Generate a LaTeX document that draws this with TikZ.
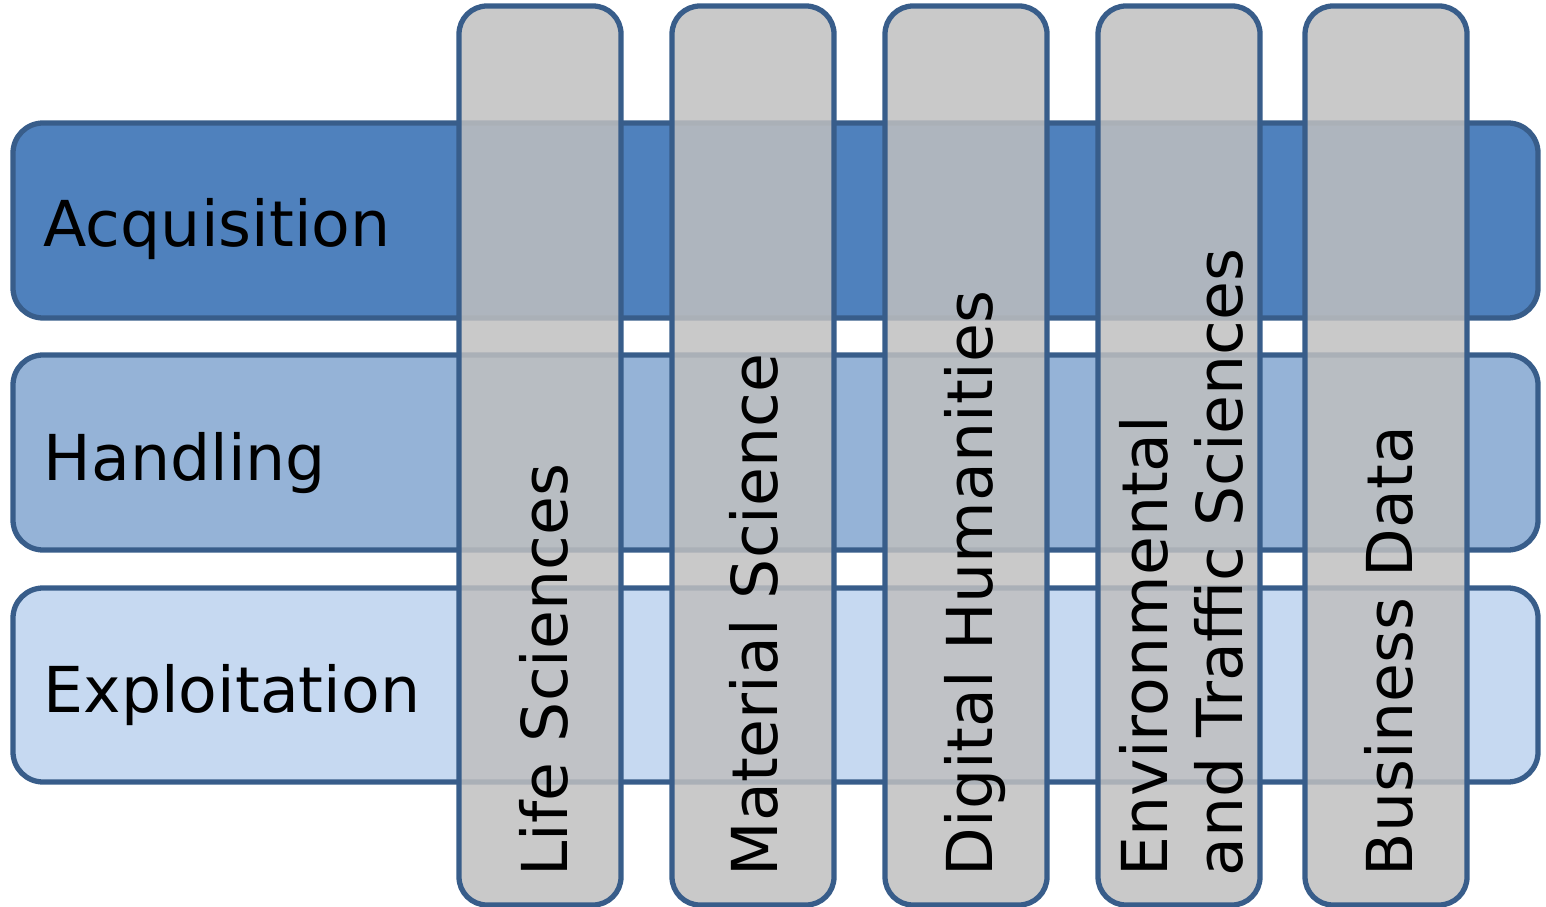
\documentclass[tikz,border=0pt]{standalone}
\usepackage{fontspec}
\setmainfont{DejaVu Sans}
\usetikzlibrary{positioning}
\definecolor{acqblue}{HTML}{4F81BD}
\definecolor{hndblue}{HTML}{95B3D7}
\definecolor{expblue}{HTML}{C6D9F1}
\definecolor{edgeblue}{HTML}{385D8A}
\definecolor{colgray}{HTML}{BFBFBF}

\begin{document}
\begin{tikzpicture}[x=0.01cm,y=-0.01cm,
	band/.style={draw=edgeblue,line width=1.5pt,rounded corners=0.3cm},
	field/.style={draw=edgeblue,line width=1.5pt,rounded corners=0.28cm,fill=colgray,fill opacity=0.85},
	lab/.style={font=\fontsize{18}{21.3}\selectfont,inner sep=0pt,anchor=base west}]
	\useasboundingbox (0,0) rectangle (1546,907);
	
	% stages
	\foreach \ya/\yb/\col/\nm/\txt/\base in {123/318/acqblue/acq/Acquisition/247,355/550/hndblue/hnd/Handling/481,588/782/expblue/exp/Exploitation/712}{
		\draw[band,fill=\col] (13,\ya) rectangle (1538,\yb);
		\node[lab] (\nm) at (43,\base) {\txt};
	}
	
	% fields
	\foreach \xa/\xb in {459/621,672/834,885/1047,1098/1260,1305/1467}{
		\draw[field] (\xa,6) rectangle (\xb,905);
	}
	\node[lab,rotate=90] (life) at (567,877) {Life Sciences};
	\node[lab,rotate=90] (mat) at (777,877) {Material Science};
	\node[lab,rotate=90] (dig) at (992,877) {Digital Humanities};
	\node[lab,rotate=90,align=left] (env) at (1242,877) {Environmental\\and Traffic Sciences};
	\node[lab,rotate=90] (bus) at (1412,877) {Business Data};
\end{tikzpicture}
\end{document}
